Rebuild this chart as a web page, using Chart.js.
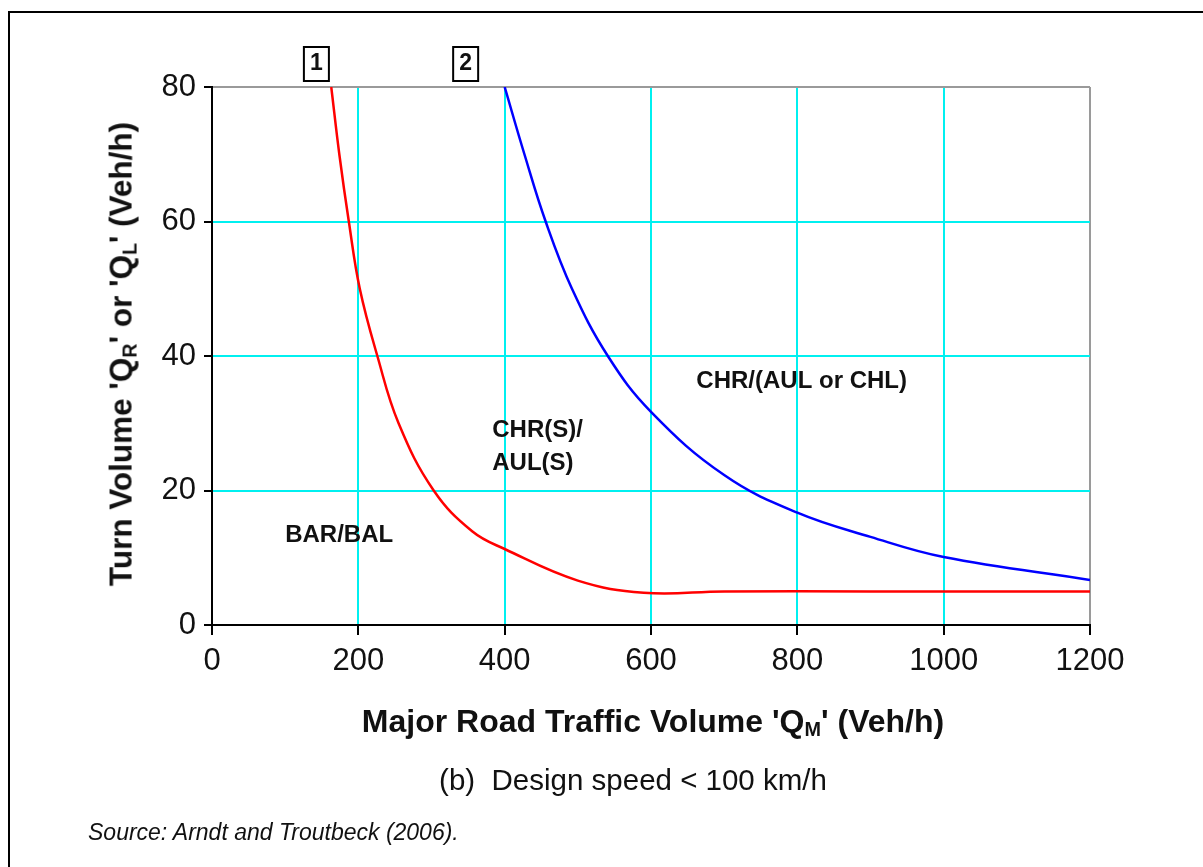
<!DOCTYPE html>
<html lang="en">
<head>
<meta charset="utf-8" />
<title>Turn treatment warrants - design speed &lt; 100 km/h</title>
<script src="https://cdn.jsdelivr.net/npm/chart.js"></script>
<style>
    html, body { margin: 0; padding: 0; background: #fff; overflow: hidden; }
    body { width: 1203px; height: 867px; position: relative; font-family: "Liberation Sans", Arial, sans-serif; color: #111; }
    #frame { position: absolute; left: 8px; top: 11px; width: 1400px; height: 1000px; border: 2px solid #000; box-sizing: border-box; }
    #chart { position: absolute; left: 0; top: 0; }
    .txt { position: absolute; white-space: nowrap; }
    .txt sub { font-size: 62%; vertical-align: -0.25em; }
    #ytitle { left: 122px; top: 354px; font-weight: bold; font-size: 31.5px; transform: translate(-50%, -50%) rotate(-90deg); }
    #xtitle { left: 653px; top: 722px; font-weight: bold; font-size: 32px; transform: translate(-50%, -50%); }
    #caption { left: 633px; top: 780px; font-size: 29.5px; transform: translate(-50%, -50%); }
    #source { left: 88px; top: 832px; font-size: 23px; font-style: italic; transform: translateY(-50%); }
</style>
</head>
<body>
<div id="frame"></div>
<canvas id="chart" width="1203" height="867"></canvas>
<div class="txt" id="ytitle">Turn Volume 'Q<sub>R</sub>' or 'Q<sub>L</sub>' (Veh/h)</div>
<div class="txt" id="xtitle">Major Road Traffic Volume 'Q<sub>M</sub>' (Veh/h)</div>
<div class="txt" id="caption">(b)&nbsp;&nbsp;Design speed &lt; 100 km/h</div>
<div class="txt" id="source">Source: Arndt and Troutbeck (2006).</div>
<script>
    // Curva 1 (vermelha) - limite BAR/BAL
    const curve1X = [163, 174, 187, 202, 226, 255, 303, 356, 400, 500, 590, 700, 900, 1200];
    const curve1Y = [80, 70, 60, 50, 40, 30, 20, 13.9, 11.3, 6.6, 4.8, 5, 5, 5];

    // Curva 2 (azul) - limite CHR(S)/AUL(S)
    const curve2X = [400, 427, 456, 492, 541, 600, 700, 800, 900, 1000, 1200];
    const curve2Y = [80, 70, 60, 50, 40, 31.7, 22.3, 16.7, 13.1, 10.1, 6.7];

    const xTicks = [0, 200, 400, 600, 800, 1000, 1200];
    const yTicks = [0, 20, 40, 60, 80];

    // textos das regiões (coordenadas em dados)
    const regionLabels = [
        { text: 'BAR/BAL', x: 100, y: 13.4 },
        { text: 'CHR(S)/', x: 383, y: 28.9 },
        { text: 'AUL(S)', x: 383, y: 24 },
        { text: 'CHR/(AUL or CHL)', x: 662, y: 36.3 }
    ];
    const curveTags = [
        { text: '1', x: 142 },
        { text: '2', x: 346 }
    ];

    function toPoints(xs, ys) {
        return xs.map((x, i) => ({ x: x, y: ys[i] }));
    }

    const annotations = {
        id: 'annotations',
        afterDatasetsDraw(chart) {
            const ctx = chart.ctx;
            const xs = chart.scales.x, ys = chart.scales.y;
            ctx.save();
            ctx.fillStyle = '#111';
            ctx.font = 'bold 24px "Liberation Sans", Arial, sans-serif';
            ctx.textBaseline = 'middle';
            ctx.textAlign = 'left';
            regionLabels.forEach(l => {
                ctx.fillText(l.text, xs.getPixelForValue(l.x), ys.getPixelForValue(l.y));
            });
            // caixinhas 1 e 2 acima do gráfico
            ctx.textAlign = 'center';
            ctx.font = 'bold 23px "Liberation Sans", Arial, sans-serif';
            curveTags.forEach(t => {
                const cx = xs.getPixelForValue(t.x);
                const top = chart.chartArea.top;
                ctx.strokeStyle = '#000';
                ctx.lineWidth = 2;
                ctx.strokeRect(cx - 12, top - 40, 25, 34);
                ctx.fillText(t.text, cx + 0.5, top - 23);
            });
            ctx.restore();
        }
    };

    function gridColor(edgeValue) {
        return ctx => {
            const v = ctx.tick ? ctx.tick.value : null;
            if (v === 0) return '#000';
            if (v === edgeValue) return '#9a9a9a';
            return '#00f0f0';
        };
    }

    const tickFont = { family: '"Liberation Sans", Arial, sans-serif', size: 31 };

    window.onload = function () {
        new Chart(document.getElementById('chart'), {
            type: 'scatter',
            data: {
                datasets: [{
                    label: '1',
                    data: toPoints(curve1X, curve1Y),
                    showLine: true,
                    borderColor: '#ff0000',
                    borderWidth: 2.5,
                    pointRadius: 0,
                    tension: 0.4
                }, {
                    label: '2',
                    data: toPoints(curve2X, curve2Y),
                    showLine: true,
                    borderColor: '#0000ff',
                    borderWidth: 2.5,
                    pointRadius: 0,
                    tension: 0.4
                }]
            },
            options: {
                responsive: false,
                animation: false,
                layout: { padding: { left: 100, top: 87, right: 113, bottom: 182 } },
                plugins: { legend: { display: false }, tooltip: { enabled: false } },
                scales: {
                    x: {
                        type: 'linear', min: 0, max: 1200,
                        afterBuildTicks: s => { s.ticks = xTicks.map(v => ({ value: v })); },
                        afterFit: s => { s.height = 60; },
                        grid: { color: gridColor(1200), lineWidth: 2, tickColor: '#000', tickLength: 10 },
                        border: { color: '#000', width: 2 },
                        ticks: { color: '#111', padding: 8, font: tickFont, callback: v => String(v) }
                    },
                    y: {
                        type: 'linear', min: 0, max: 80,
                        afterBuildTicks: s => { s.ticks = yTicks.map(v => ({ value: v })); },
                        afterFit: s => { s.width = 112; },
                        grid: { color: gridColor(80), lineWidth: 2, tickColor: '#000', tickLength: 8 },
                        border: { color: '#000', width: 2 },
                        ticks: { color: '#111', padding: 8, font: tickFont, callback: v => String(v) }
                    }
                }
            },
            plugins: [annotations]
        });
    };
</script>
</body>
</html>
